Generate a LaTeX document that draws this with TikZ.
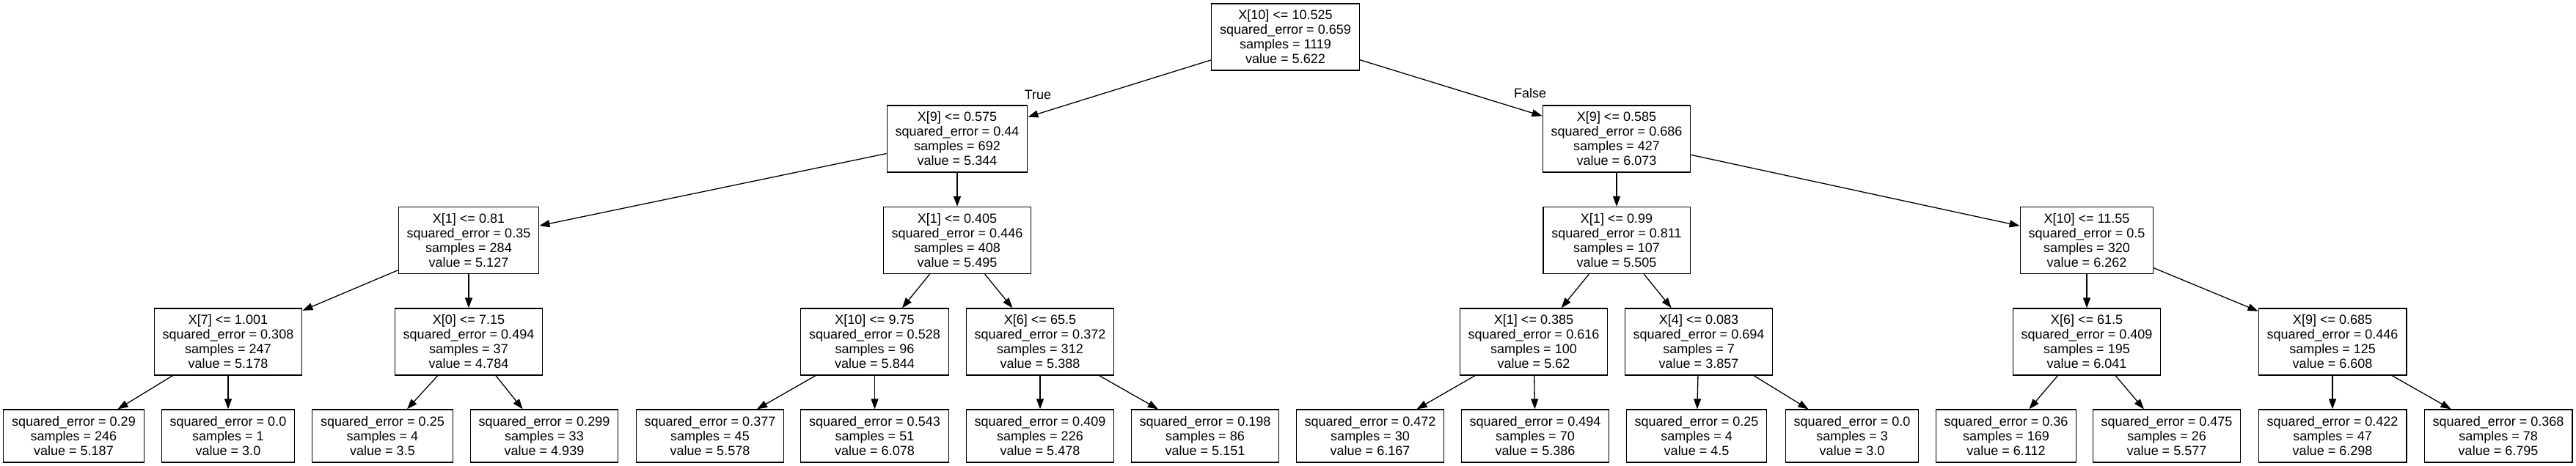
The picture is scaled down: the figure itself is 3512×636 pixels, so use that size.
\documentclass[tikz,border=0pt]{standalone}
\usepackage{fontspec}
\setmainfont{Liberation Sans}
\usetikzlibrary{arrows.meta}

\begin{document}
\begin{tikzpicture}[x = 1pt, y = -1pt,
    every node/.style = {font = \fontsize{18}{20}\selectfont},
    split/.style = {draw, line width = 1.3pt, align = center, inner xsep = 11.5pt, inner ysep = 0pt, minimum height = 91pt},
    leaf/.style = {draw, line width = 1.3pt, align = center, inner xsep = 11.5pt, inner ysep = 0pt, minimum height = 72pt},
    branch/.style = {line width = 1.3pt, -{Triangle[length = 14pt, width = 10pt]}}]
    \useasboundingbox (0, 0) rectangle (3512, 636);
    \node[split] (root) at (1752.5, 50.5) {X[10] <= 10.525 \\ squared\_error = 0.659 \\ samples = 1119 \\ value = 5.622};
    \node[split] (l) at (1305, 189.5) {X[9] <= 0.575 \\ squared\_error = 0.44 \\ samples = 692 \\ value = 5.344};
    \node[split] (r) at (2204, 189.5) {X[9] <= 0.585 \\ squared\_error = 0.686 \\ samples = 427 \\ value = 6.073};
    \draw[branch] (root) -- (l);
    \draw[branch] (root) -- (r);
    \node (true label) at (1415, 129) {True};
    \node (false label) at (2086, 127) {False};
    \node[split] (ll) at (639, 328) {X[1] <= 0.81 \\ squared\_error = 0.35 \\ samples = 284 \\ value = 5.127};
    \node[split] (lr) at (1305, 328) {X[1] <= 0.405 \\ squared\_error = 0.446 \\ samples = 408 \\ value = 5.495};
    \node[split] (rl) at (2204, 328) {X[1] <= 0.99 \\ squared\_error = 0.811 \\ samples = 107 \\ value = 5.505};
    \node[split] (rr) at (2845, 328) {X[10] <= 11.55 \\ squared\_error = 0.5 \\ samples = 320 \\ value = 6.262};
    \draw[branch] (l) -- (ll);
    \draw[branch] (l) -- (lr);
    \draw[branch] (r) -- (rl);
    \draw[branch] (r) -- (rr);
    \node[split] (lll) at (311, 466.5) {X[7] <= 1.001 \\ squared\_error = 0.308 \\ samples = 247 \\ value = 5.178};
    \node[split] (llr) at (639, 466.5) {X[0] <= 7.15 \\ squared\_error = 0.494 \\ samples = 37 \\ value = 4.784};
    \node[split] (lrl) at (1192.5, 466.5) {X[10] <= 9.75 \\ squared\_error = 0.528 \\ samples = 96 \\ value = 5.844};
    \node[split] (lrr) at (1418, 466.5) {X[6] <= 65.5 \\ squared\_error = 0.372 \\ samples = 312 \\ value = 5.388};
    \node[split] (rll) at (2091, 466.5) {X[1] <= 0.385 \\ squared\_error = 0.616 \\ samples = 100 \\ value = 5.62};
    \node[split] (rlr) at (2316, 466.5) {X[4] <= 0.083 \\ squared\_error = 0.694 \\ samples = 7 \\ value = 3.857};
    \node[split] (rrl) at (2845, 466.5) {X[6] <= 61.5 \\ squared\_error = 0.409 \\ samples = 195 \\ value = 6.041};
    \node[split] (rrr) at (3180, 466.5) {X[9] <= 0.685 \\ squared\_error = 0.446 \\ samples = 125 \\ value = 6.608};
    \draw[branch] (ll) -- (lll);
    \draw[branch] (ll) -- (llr);
    \draw[branch] (lr) -- (lrl);
    \draw[branch] (lr) -- (lrr);
    \draw[branch] (rl) -- (rll);
    \draw[branch] (rl) -- (rlr);
    \draw[branch] (rr) -- (rrl);
    \draw[branch] (rr) -- (rrr);
    \node[leaf] (llll) at (100.5, 595) {squared\_error = 0.29 \\ samples = 246 \\ value = 5.187};
    \node[leaf] (lllr) at (311, 595) {squared\_error = 0.0 \\ samples = 1 \\ value = 3.0};
    \node[leaf] (llrl) at (521.5, 595) {squared\_error = 0.25 \\ samples = 4 \\ value = 3.5};
    \node[leaf] (llrr) at (742, 595) {squared\_error = 0.299 \\ samples = 33 \\ value = 4.939};
    \node[leaf] (lrll) at (968, 595) {squared\_error = 0.377 \\ samples = 45 \\ value = 5.578};
    \node[leaf] (lrlr) at (1192.5, 595) {squared\_error = 0.543 \\ samples = 51 \\ value = 6.078};
    \node[leaf] (lrrl) at (1418, 595) {squared\_error = 0.409 \\ samples = 226 \\ value = 5.478};
    \node[leaf] (lrrr) at (1643, 595) {squared\_error = 0.198 \\ samples = 86 \\ value = 5.151};
    \node[leaf] (rlll) at (1868, 595) {squared\_error = 0.472 \\ samples = 30 \\ value = 6.167};
    \node[leaf] (rllr) at (2093, 595) {squared\_error = 0.494 \\ samples = 70 \\ value = 5.386};
    \node[leaf] (rlrl) at (2313, 595) {squared\_error = 0.25 \\ samples = 4 \\ value = 4.5};
    \node[leaf] (rlrr) at (2525, 595) {squared\_error = 0.0 \\ samples = 3 \\ value = 3.0};
    \node[leaf] (rrll) at (2735, 595) {squared\_error = 0.36 \\ samples = 169 \\ value = 6.112};
    \node[leaf] (rrlr) at (2954, 595) {squared\_error = 0.475 \\ samples = 26 \\ value = 5.577};
    \node[leaf] (rrrl) at (3180, 595) {squared\_error = 0.422 \\ samples = 47 \\ value = 6.298};
    \node[leaf] (rrrr) at (3406, 595) {squared\_error = 0.368 \\ samples = 78 \\ value = 6.795};
    \draw[branch] (lll) -- (llll);
    \draw[branch] (lll) -- (lllr);
    \draw[branch] (llr) -- (llrl);
    \draw[branch] (llr) -- (llrr);
    \draw[branch] (lrl) -- (lrll);
    \draw[branch] (lrl) -- (lrlr);
    \draw[branch] (lrr) -- (lrrl);
    \draw[branch] (lrr) -- (lrrr);
    \draw[branch] (rll) -- (rlll);
    \draw[branch] (rll) -- (rllr);
    \draw[branch] (rlr) -- (rlrl);
    \draw[branch] (rlr) -- (rlrr);
    \draw[branch] (rrl) -- (rrll);
    \draw[branch] (rrl) -- (rrlr);
    \draw[branch] (rrr) -- (rrrl);
    \draw[branch] (rrr) -- (rrrr);
  \end{tikzpicture}
\end{document}
